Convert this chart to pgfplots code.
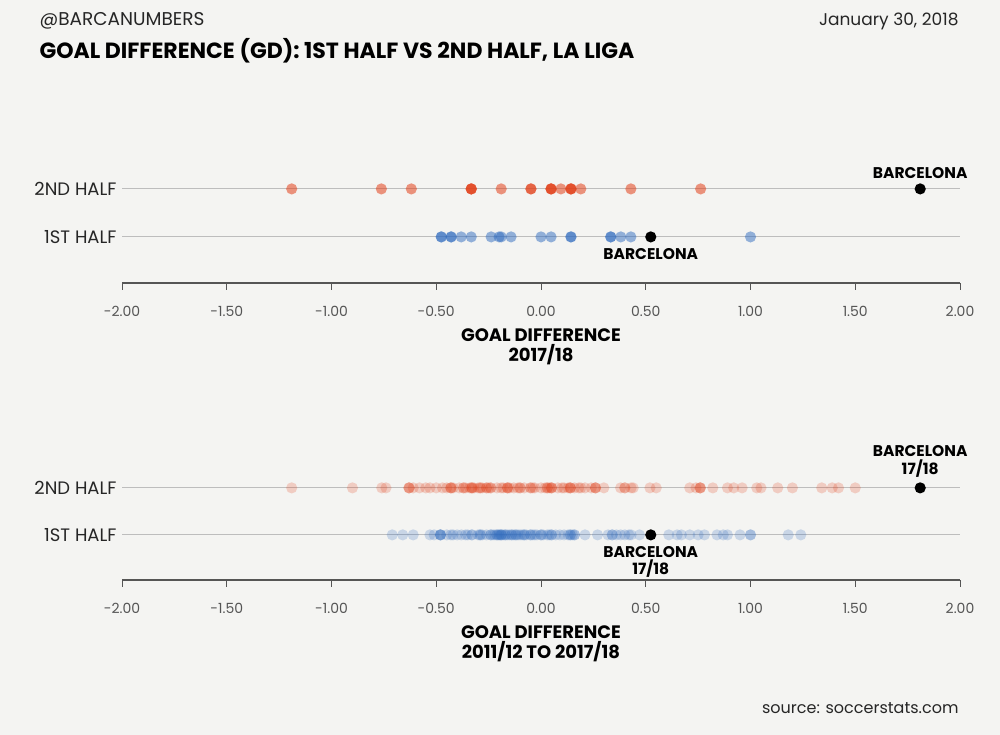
\documentclass[border=0pt]{standalone}
\usepackage{pgfplots}
\pgfplotsset{compat=1.18}
\usepackage{fontspec}
\setmainfont{Poppins}

\definecolor{bg}{HTML}{F4F4F2}
\definecolor{dotred}{HTML}{E2401A}
\definecolor{dotblue}{HTML}{2F6BBF}
\definecolor{gridgray}{HTML}{BDBDBD}
\definecolor{axisgray}{HTML}{555555}
\definecolor{ticktext}{HTML}{555555}

\tikzset{barcalabel/.style={font=\bfseries\fontsize{15.5}{17.5}\selectfont, align=center}}

\pgfplotsset{
  gdaxis/.style={
    scale only axis,
    width=838pt,
    xmin=-2, xmax=2,
    ymin=0.04, ymax=2.6,
    axis x line*=bottom,
    axis y line*=left,
    y axis line style={draw=none},
    x axis line style={axisgray, line width=2.4pt},
    xtick={-2,-1.5,...,2},
    ytick={1,2},
    yticklabels={1ST HALF,2ND HALF},
    ytick style={draw=none},
    xtick style={axisgray, line width=0.8pt},
    tick align=outside,
    major tick length=7pt,
    ymajorgrids,
    grid style={gridgray, line width=0.9pt},
    /pgf/number format/.cd, fixed, fixed zerofill, precision=2, assume math mode=true,
    /pgfplots/.cd,
    xticklabel style={font=\fontsize{14}{16}\selectfont, text=ticktext, yshift=-13pt},
    yticklabel style={font=\fontsize{18}{21}\selectfont, text=black!85, xshift=5pt},
    xlabel style={font=\bfseries\fontsize{18}{20}\selectfont, align=center, yshift=-5pt},
    clip=false,
  },
  reddot/.style={only marks, mark=*, mark size=5.6pt,
    mark options={draw opacity=0, fill=dotred, fill opacity=#1}},
  bluedot/.style={only marks, mark=*, mark size=5.6pt,
    mark options={draw opacity=0, fill=dotblue, fill opacity=#1}},
  barca/.style={only marks, mark=*, mark size=5.6pt,
    mark options={draw opacity=0, fill=black}},
}

\begin{document}
\begin{tikzpicture}[x=1pt,y=1pt]
\fill[bg] (0,0) rectangle (1000,735);
\useasboundingbox (0,0) rectangle (1000,735);

\node[anchor=west, font=\fontsize{18.5}{20}\selectfont, text=black!85] at (36,714) {@BARCANUMBERS};
\node[anchor=east, font=\fontsize{17}{20}\selectfont, text=black!85] at (962,714) {January 30, 2018};
\node[anchor=west, font=\bfseries\fontsize{22}{24}\selectfont] at (36,684) {GOAL DIFFERENCE (GD): 1ST HALF VS 2ND HALF, LA LIGA};
\node[anchor=east, font=\fontsize{16}{18}\selectfont, text=black!85] at (962,27) {source: soccerstats.com};

% 2017/18 season
\begin{axis}[gdaxis, at={(122pt,452pt)}, anchor=south west, height=122.88pt,
  xlabel={GOAL DIFFERENCE\\2017/18}]
\addplot[reddot=0.55] coordinates {
  (-1.190,2)(-0.762,2)(-0.619,2)(-0.333,2)(-0.333,2)(-0.333,2)(-0.190,2)
  (-0.048,2)(-0.048,2)(0.048,2)(0.048,2)(0.048,2)(0.095,2)
  (0.143,2)(0.143,2)(0.143,2)(0.190,2)(0.429,2)(0.762,2)
};
\addplot[bluedot=0.5] coordinates {
  (-0.476,1)(-0.476,1)(-0.429,1)(-0.429,1)(-0.381,1)(-0.333,1)(-0.238,1)
  (-0.190,1)(-0.200,1)(-0.143,1)(0.000,1)(0.048,1)(0.143,1)(0.143,1)
  (0.333,1)(0.333,1)(0.381,1)(0.429,1)(1.000,1)
};
\addplot[barca] coordinates {(1.810,2)(0.524,1)};
\node[barcalabel, anchor=south] at (axis cs:1.81,2) [yshift=7pt] {BARCELONA};
\node[barcalabel, anchor=north] at (axis cs:0.524,1) [yshift=-8pt] {BARCELONA};
\end{axis}

% 2011/12 to 2017/18
\begin{axis}[gdaxis, at={(122pt,155pt)}, anchor=south west, height=120.32pt,
  xlabel={GOAL DIFFERENCE\\2011/12 TO 2017/18}]
\addplot[reddot=0.22] coordinates {
  (-1.19,2)(-0.90,2)(-0.76,2)(-0.74,2)(-0.63,2)(-0.63,2)(-0.63,2)
  (-0.61,2)(-0.58,2)(-0.55,2)(-0.53,2)(-0.50,2)(-0.47,2)
  (-0.45,2)(-0.43,2)(-0.43,2)(-0.43,2)(-0.42,2)
  (-0.39,2)(-0.37,2)(-0.37,2)(-0.36,2)(-0.34,2)(-0.33,2)(-0.33,2)(-0.33,2)
  (-0.32,2)(-0.30,2)(-0.29,2)(-0.29,2)(-0.28,2)(-0.26,2)(-0.26,2)(-0.25,2)
  (-0.24,2)(-0.24,2)(-0.21,2)(-0.19,2)(-0.18,2)
  (-0.16,2)(-0.16,2)(-0.16,2)(-0.15,2)(-0.13,2)(-0.11,2)(-0.10,2)(-0.10,2)
  (-0.08,2)(-0.05,2)(-0.05,2)(-0.04,2)(-0.03,2)
  (0.00,2)(0.02,2)(0.03,2)(0.03,2)(0.04,2)(0.05,2)(0.05,2)(0.05,2)
  (0.08,2)(0.10,2)(0.11,2)(0.13,2)(0.14,2)(0.14,2)(0.14,2)(0.16,2)(0.18,2)
  (0.19,2)(0.21,2)(0.24,2)(0.26,2)(0.26,2)(0.26,2)
  (0.30,2)(0.38,2)(0.40,2)(0.40,2)(0.43,2)(0.44,2)(0.52,2)(0.55,2)
  (0.71,2)(0.74,2)(0.76,2)(0.76,2)(0.76,2)(0.82,2)
  (0.89,2)(0.92,2)(0.96,2)(1.03,2)(1.05,2)(1.13,2)(1.20,2)
  (1.34,2)(1.39,2)(1.42,2)(1.50,2)
};
\addplot[bluedot=0.22] coordinates {
  (-0.71,1)(-0.66,1)(-0.61,1)
  (-0.53,1)(-0.51,1)(-0.48,1)(-0.48,1)(-0.48,1)(-0.48,1)
  (-0.45,1)(-0.43,1)(-0.42,1)(-0.40,1)(-0.38,1)(-0.36,1)(-0.35,1)(-0.33,1)(-0.33,1)
  (-0.30,1)(-0.29,1)(-0.29,1)(-0.28,1)(-0.26,1)
  (-0.24,1)(-0.24,1)(-0.23,1)(-0.22,1)(-0.21,1)(-0.21,1)(-0.20,1)(-0.20,1)
  (-0.19,1)(-0.19,1)(-0.19,1)(-0.18,1)(-0.17,1)(-0.17,1)
  (-0.16,1)(-0.15,1)(-0.14,1)(-0.14,1)(-0.13,1)(-0.12,1)(-0.12,1)(-0.11,1)
  (-0.10,1)(-0.09,1)(-0.08,1)(-0.08,1)
  (-0.07,1)(-0.05,1)(-0.05,1)(-0.04,1)(-0.03,1)(-0.02,1)(0.00,1)(0.00,1)(0.01,1)
  (0.03,1)(0.04,1)(0.05,1)(0.05,1)(0.07,1)(0.09,1)
  (0.11,1)(0.13,1)(0.14,1)(0.14,1)(0.15,1)(0.16,1)(0.16,1)
  (0.21,1)(0.27,1)(0.32,1)(0.34,1)(0.34,1)(0.36,1)(0.38,1)(0.40,1)(0.42,1)
  (0.43,1)(0.47,1)
  (0.61,1)(0.65,1)(0.67,1)(0.71,1)(0.75,1)(0.78,1)(0.84,1)(0.87,1)(0.89,1)
  (0.95,1)(1.00,1)(1.00,1)(1.18,1)(1.24,1)
};
\addplot[barca] coordinates {(1.810,2)(0.524,1)};
\node[barcalabel, anchor=south] at (axis cs:1.81,2) [yshift=7pt] {BARCELONA\\17/18};
\node[barcalabel, anchor=north] at (axis cs:0.524,1) [yshift=-8pt] {BARCELONA\\17/18};
\end{axis}
\end{tikzpicture}
\end{document}
